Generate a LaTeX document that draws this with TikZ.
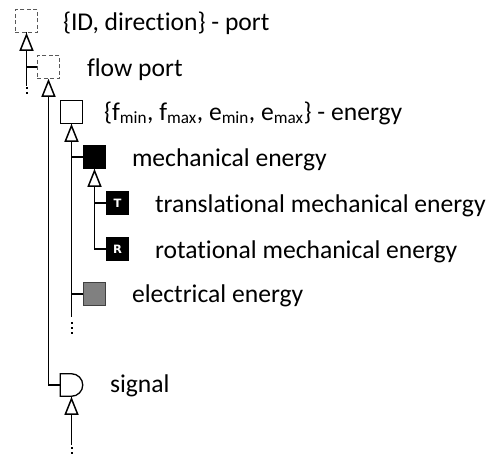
\documentclass[tikz,border=0pt]{standalone}
\usepackage{fontspec}
\setmainfont[Ligatures=NoCommon]{Carlito}
\newfontfamily\tagfont{DejaVu Sans}
\newcommand{\lowsub}[1]{\textsubscript{\fontsize{17.2}{19}\selectfont #1}}
\usetikzlibrary{arrows.meta}
\tikzset{
  x=1pt,y=-1pt,
  conn/.style={line width=1.6pt,black},
  inherit/.style={conn,-{Triangle[open,length=18pt,width=14pt,line width=1.5pt,fill=white]},shorten >=0.5pt},
  dotsline/.style={line width=2pt,black,dash pattern=on 2pt off 3pt},
  box/.style={draw=black,line width=1.3pt,minimum size=22.5pt,inner sep=0pt,outer sep=0pt,fill=white},
  portbox/.style={box,draw=black!65,dashed,dash pattern=on 4pt off 2.5pt},
  mech/.style={box,fill=black},
  elec/.style={box,fill=black!50,draw=black!75},
  sub/.style={mech,text=white,font=\tagfont\fontsize{11.5}{12}\selectfont\bfseries},
  lbl/.style={anchor=base west,inner sep=0pt,outer sep=0pt,font=\fontsize{25.6}{30}\selectfont},
}
\begin{document}
\begin{tikzpicture}
\useasboundingbox (0,0) rectangle (487,456);
% nodes
\node[portbox] (port) at (26.5,21) {};
\node[portbox] (flow) at (48.5,67) {};
\node[box] (energy) at (71.5,112) {};
\node[mech] (mechbox) at (94.5,157) {};
\node[sub] (tbox) at (117.5,203) {T};
\node[sub] (rbox) at (117.5,249) {R};
\node[elec] (elecbox) at (94.5,294) {};
\node[minimum size=22.5pt,inner sep=0pt,outer sep=0pt] (signal) at (71.5,385) {};
\draw[conn,line width=1.3pt,fill=white] (signal.north west) -- (signal.north) arc[start angle=90,end angle=-90,radius=11.25pt] -- (signal.south west) -- cycle;
% free ends
\coordinate (portend) at (26.5,86);
\coordinate (portdots) at (26.5,95);
\coordinate (energyend) at (71.5,317);
\coordinate (energydots) at (71.5,336);
\coordinate (signalend) at (71.5,445);
\coordinate (signaldots) at (71.5,454);
% connectors
\draw[conn] (port.south) -- (portend);
\draw[dotsline] (portend) ++(0,1) -- (portdots);
\draw[conn] (energy.south) -- (energyend);
\draw[dotsline] (energyend) ++(0,5) -- (energydots);
\draw[conn] (signal.south) -- (signalend);
\draw[dotsline] (signalend) ++(0,2) -- (signaldots);
\draw[conn] (mechbox.south) -- (rbox.west -| mechbox.south) -- (rbox.west);
\draw[inherit] (flow.west) -| (port.south);
\draw[inherit] (signal.west) -| (flow.south);
\draw[inherit] (mechbox.west) -| (energy.south);
\draw[conn] (elecbox.west) -- (elecbox.west -| energy.south);
\draw[inherit] (tbox.west) -| (mechbox.south);
\draw[inherit] (signalend) -- (signal.south);
% labels
\node[lbl] (l1) at (63,30) {\{ID, direction\} - port};
\node[lbl] (l2) at (87,76) {flow port};
\node[lbl] (l3) at (104,120) {\{f\lowsub{min}, f\lowsub{max}, e\lowsub{min}, e\lowsub{max}\} - energy};
\node[lbl] (l4) at (132,166) {mechanical energy};
\node[lbl] (l5) at (155,212) {translational mechanical energy};
\node[lbl] (l6) at (155,258) {rotational mechanical energy};
\node[lbl] (l7) at (132,302) {electrical energy};
\node[lbl] (l8) at (110,392) {signal};
\end{tikzpicture}
\end{document}
